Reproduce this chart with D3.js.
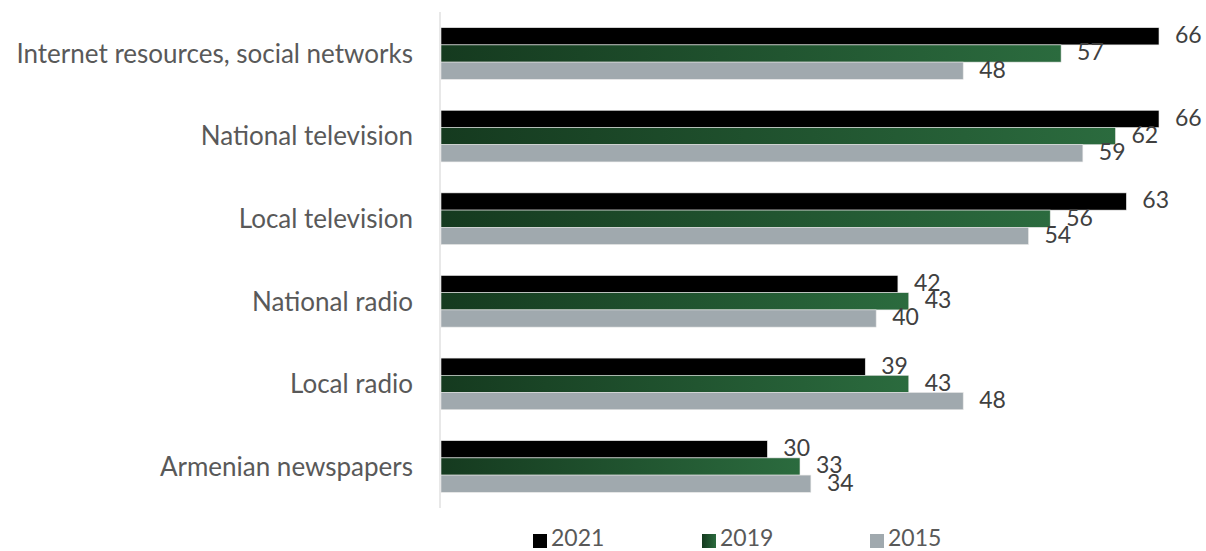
<!DOCTYPE html>
<html>
<head>
<meta charset="utf-8">
<script src="https://cdn.jsdelivr.net/npm/d3@7"></script>
<style>
  html, body { margin: 0; padding: 0; background: #fff; }
  svg text { font-family: "Lato", "Open Sans", sans-serif; }
</style>
</head>
<body>
<svg id="chart" width="1206" height="551"></svg>
<script>
// Media sources, share of respondents (%)
const categories = [
  "Internet resources, social networks",
  "National television",
  "Local television",
  "National radio",
  "Local radio",
  "Armenian newspapers"
];
const seriesNames = ["2021", "2019", "2015"];
const values2021 = [66, 66, 63, 42, 39, 30];
const values2019 = [57, 62, 56, 43, 43, 33];
const values2015 = [48, 59, 54, 40, 48, 34];
const seriesValues = [values2021, values2019, values2015];

const svg = d3.select("#chart");
const margin = { left: 441, top: 12, right: 47, bottom: 43 };
const W = 1206, H = 551;

const defs = svg.append("defs");
const grad = defs.append("linearGradient").attr("id", "greenGrad")
  .attr("x1", "0%").attr("x2", "100%").attr("y1", "0%").attr("y2", "0%");
grad.append("stop").attr("offset", "0%").attr("stop-color", "#153a1f");
grad.append("stop").attr("offset", "100%").attr("stop-color", "#2b6b3e");

const fills = ["#000000", "url(#greenGrad)", "#a0a9ae"];

const x = d3.scaleLinear().domain([0, 66]).range([margin.left, 1159]);
const y0 = d3.scaleBand().domain(categories)
  .range([margin.top, H - margin.bottom]).paddingInner(0.375).paddingOuter(0.19);
const y1 = d3.scaleBand().domain(seriesNames).range([0, y0.bandwidth()]);

// Category axis
const yAxis = d3.axisLeft(y0).tickSize(0).tickPadding(27);
const gAxis = svg.append("g").attr("transform", `translate(${margin.left - 1},1)`).call(yAxis);
gAxis.select(".domain").remove();
gAxis.selectAll("text").attr("fill", "#595959").style("font-size", "26px");
svg.append("line")
  .attr("x1", margin.left - 1).attr("x2", margin.left - 1)
  .attr("y1", margin.top).attr("y2", H - margin.bottom)
  .attr("stroke", "#d9d9d9").attr("stroke-width", 1.2);

// Bars
const rows = [];
categories.forEach((c, i) => {
  seriesNames.forEach((s, j) => rows.push({ cat: c, series: s, j, value: seriesValues[j][i] }));
});

const bars = svg.append("g");
bars.selectAll("rect").data(rows).enter().append("rect")
  .attr("x", x(0))
  .attr("y", d => y0(d.cat) + y1(d.series))
  .attr("width", d => x(d.value) - x(0))
  .attr("height", y1.bandwidth())
  .attr("fill", d => fills[d.j])
  .attr("stroke", "#e6e6e6").attr("stroke-width", 0.6);

// Value labels
svg.append("g").selectAll("text").data(rows).enter().append("text")
  .attr("x", d => x(d.value) + 16)
  .attr("y", d => y0(d.cat) + y1(d.series) + y1.bandwidth() / 2 + 1)
  .attr("dominant-baseline", "middle")
  .attr("fill", "#404040")
  .style("font-size", "23px")
  .text(d => d.value);

// Legend
const legendX = [533, 702, 870];
const legend = svg.append("g");
seriesNames.forEach((s, j) => {
  legend.append("rect").attr("x", legendX[j]).attr("y", 534)
    .attr("width", 14).attr("height", 14).attr("fill", fills[j]);
  legend.append("text").attr("x", legendX[j] + 18).attr("y", 540)
    .attr("dominant-baseline", "middle").attr("fill", "#595959")
    .style("font-size", "23px").text(s);
});
</script>
</body>
</html>
